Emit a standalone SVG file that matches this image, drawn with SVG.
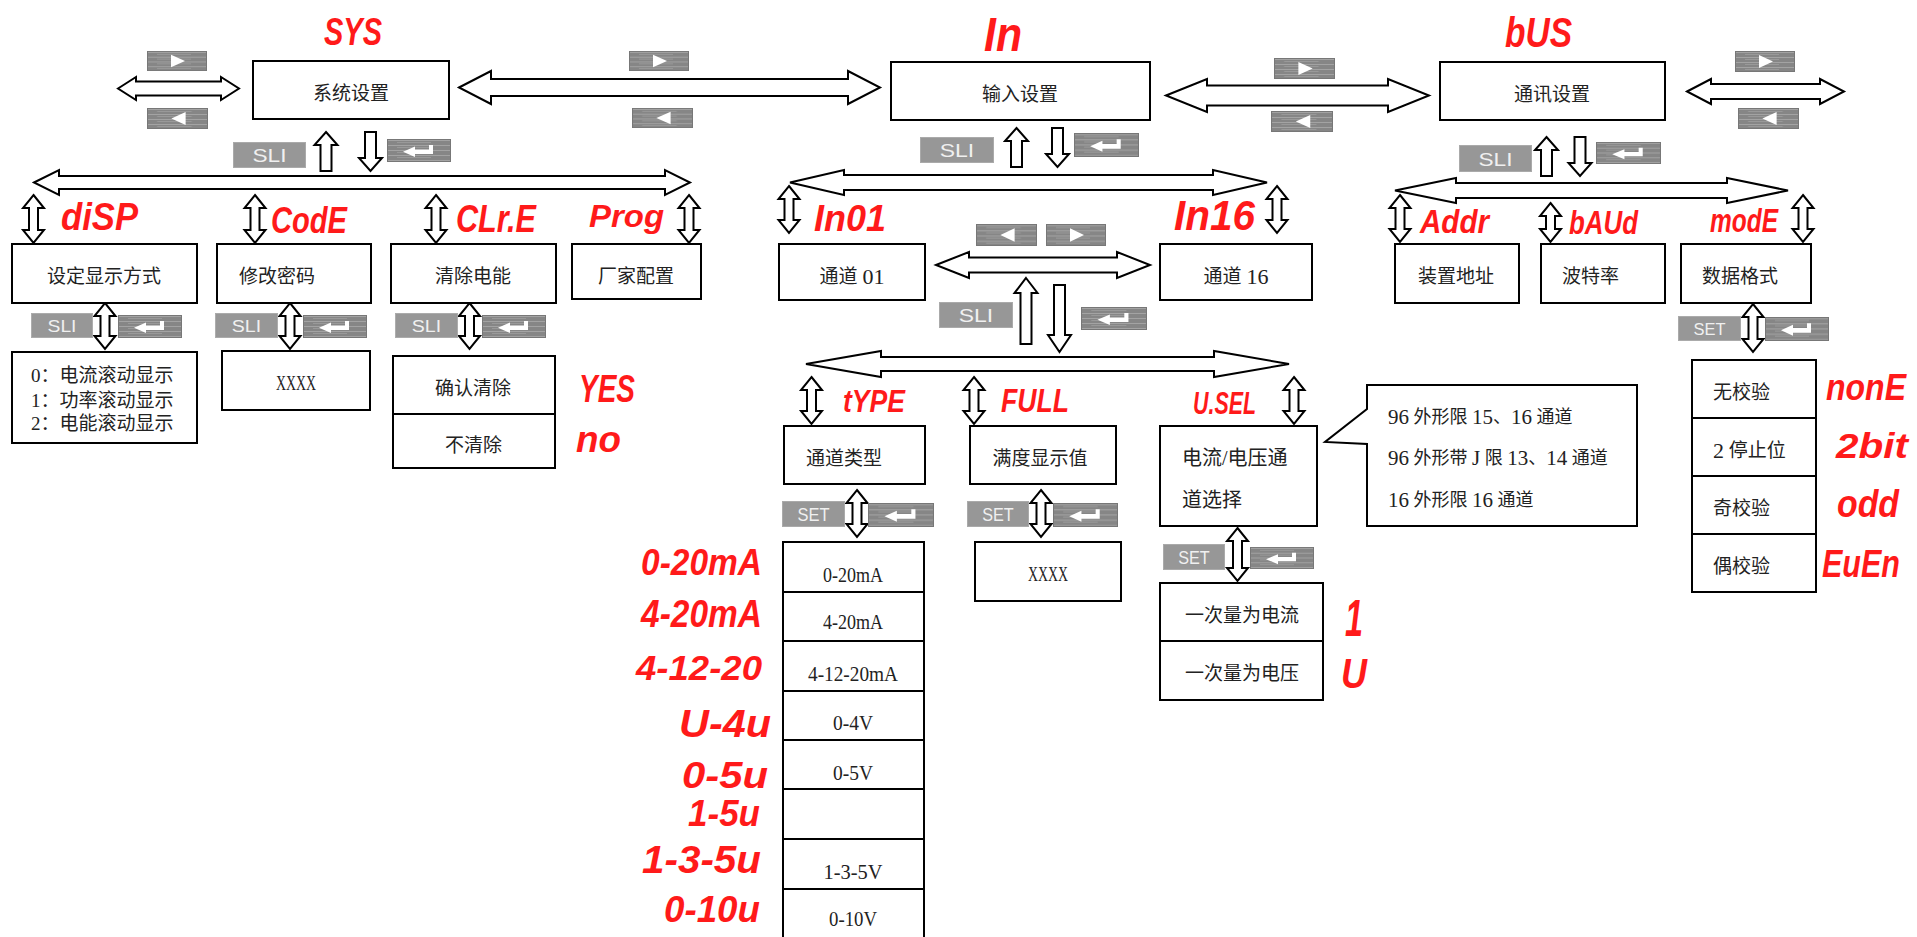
<svg xmlns="http://www.w3.org/2000/svg" width="1917" height="937" viewBox="0 0 1917 937">
<style>
.box{fill:#fff;stroke:#000;stroke-width:2}
.arr{fill:#fff;stroke:#000;stroke-width:2;stroke-linejoin:miter}
.t{font-family:"Liberation Serif","Noto Sans CJK SC",serif;font-size:19px;fill:#222;dominant-baseline:central}
.m{text-anchor:middle}
.s20{font-size:20px}
.s18{font-size:18px}
.d{font-size:22px}
.d21{font-size:21px}
.r{font-family:"Liberation Sans",Arial,sans-serif;font-weight:bold;font-style:italic;fill:#ff1a1a}
.bt{font-family:"Liberation Sans",Arial,sans-serif;fill:#f0f0f0;font-size:18px;text-anchor:middle}
</style>
<defs>
<pattern id="streak" patternUnits="userSpaceOnUse" width="64" height="5">
<rect width="64" height="5" fill="#868686"/>
<rect y="1" width="64" height="1" fill="#a3a3a3"/>
<rect x="10" y="3" width="34" height="1" fill="#999"/>
</pattern>
<symbol id="bNext" viewBox="0 0 60 21" preserveAspectRatio="none"><rect x="0.5" y="0.5" width="59" height="20" fill="url(#streak)" stroke="#777"/><path d="M24,4 L38,10.5 L24,17 Z" fill="#fff"/></symbol>
<symbol id="bPrev" viewBox="0 0 60 21" preserveAspectRatio="none"><rect x="0.5" y="0.5" width="59" height="20" fill="url(#streak)" stroke="#777"/><path d="M38,4 L24,10.5 L38,17 Z" fill="#fff"/></symbol>
<symbol id="bRet" viewBox="0 0 64 23" preserveAspectRatio="none"><rect x="0.5" y="0.5" width="63" height="22" fill="url(#streak)" stroke="#777"/><path d="M16,12.7 L28,7.5 L28,10.5 L42,10.5 L42,6 L46,6 L46,15 L28,15 L28,18 Z" fill="#fff"/></symbol>
<symbol id="bSLI" viewBox="0 0 73 26" preserveAspectRatio="none"><rect x="0.5" y="0.5" width="72" height="25" fill="#979797" stroke="#aaa"/><text class="bt" x="36.5" y="20" textLength="34" lengthAdjust="spacingAndGlyphs">SLI</text></symbol>
<symbol id="bSET" viewBox="0 0 63 26" preserveAspectRatio="none"><rect x="0.5" y="0.5" width="62" height="25" fill="#979797" stroke="#aaa"/><text class="bt" x="31.5" y="20" textLength="32" lengthAdjust="spacingAndGlyphs">SET</text></symbol>
<path id="v48" d="M0,0 L10.5,13 L4.5,13 L4.5,35 L10.5,35 L0,48 L-10.5,35 L-4.5,35 L-4.5,13 L-10.5,13 Z"/>
<path id="v47" d="M0,0 L10.5,13 L4.5,13 L4.5,34 L10.5,34 L0,47 L-10.5,34 L-4.5,34 L-4.5,13 L-10.5,13 Z"/>
<path id="v46" d="M0,0 L10.5,13 L4.5,13 L4.5,33 L10.5,33 L0,46 L-10.5,33 L-4.5,33 L-4.5,13 L-10.5,13 Z"/>
<path id="v39" d="M0,0 L10.5,13 L4.5,13 L4.5,26 L10.5,26 L0,39 L-10.5,26 L-4.5,26 L-4.5,13 L-10.5,13 Z"/>
<path id="v53" d="M0,0 L10.5,13 L4.5,13 L4.5,40 L10.5,40 L0,53 L-10.5,40 L-4.5,40 L-4.5,13 L-10.5,13 Z"/>
<path id="up39" d="M0,0 L11.5,13 L5.5,13 L5.5,39 L-5.5,39 L-5.5,13 L-11.5,13 Z"/>
<path id="dn39" d="M-5.5,0 L5.5,0 L5.5,26 L11.5,26 L0,39 L-11.5,26 L-5.5,26 Z"/>
<path id="up66" d="M0,0 L11.5,15 L5.5,15 L5.5,66 L-5.5,66 L-5.5,15 L-11.5,15 Z"/>
<path id="dn67" d="M-5.5,0 L5.5,0 L5.5,50 L11.5,50 L0,67 L-11.5,50 L-5.5,50 Z"/>
</defs>
<rect width="1917" height="937" fill="#fff"/>

<g id="connectors">
<path class="arr" d="M118,88.5 L136,77 L136,81.5 L221,81.5 L221,77 L239,88.5 L221,100 L221,95.5 L136,95.5 L136,100 Z"/>
<path class="arr" d="M459,87.5 L491,71 L491,79 L848,79 L848,71 L880,87.5 L848,104 L848,96 L491,96 L491,104 Z"/>
<path class="arr" d="M1166,95.5 L1207,79 L1207,85.5 L1388,85.5 L1388,79 L1429,95.5 L1388,112 L1388,105.5 L1207,105.5 L1207,112 Z"/>
<path class="arr" d="M1687,91.5 L1711,79 L1711,84 L1820,84 L1820,79 L1844,91.5 L1820,104 L1820,99 L1711,99 L1711,104 Z"/>
<path class="arr" d="M34,182.5 L59,170 L59,176 L665,176 L665,170 L690,182.5 L665,195 L665,189 L59,189 L59,195 Z"/>
<path class="arr" d="M790,182.5 L844,170 L844,175 L1213,175 L1213,170 L1267,182.5 L1213,195 L1213,190 L844,190 L844,195 Z"/>
<path class="arr" d="M1395,190.5 L1456,178 L1456,183 L1727,183 L1727,178 L1788,190.5 L1727,203 L1727,198 L1456,198 L1456,203 Z"/>
<path class="arr" d="M936,265 L969,252 L969,257.5 L1117,257.5 L1117,252 L1150,265 L1117,278 L1117,272.5 L969,272.5 L969,278 Z"/>
<path class="arr" d="M806,364 L881,351 L881,357 L1214,357 L1214,351 L1289,364 L1214,377 L1214,371 L881,371 L881,377 Z"/>
<use class="arr" href="#up39" x="326" y="132"/>
<use class="arr" href="#dn39" x="370.5" y="132"/>
<use class="arr" href="#up39" x="1016.5" y="128"/>
<use class="arr" href="#dn39" x="1057.5" y="128"/>
<use class="arr" href="#up39" x="1546.5" y="137"/>
<use class="arr" href="#dn39" x="1580" y="137"/>
<use class="arr" href="#up66" x="1026" y="278"/>
<use class="arr" href="#dn67" x="1059.5" y="285"/>
<use class="arr" href="#v48" x="33.5" y="195"/>
<use class="arr" href="#v48" x="255" y="195"/>
<use class="arr" href="#v48" x="436" y="195"/>
<use class="arr" href="#v48" x="689" y="195"/>
<use class="arr" href="#v47" x="789" y="186"/>
<use class="arr" href="#v47" x="1277" y="186"/>
<use class="arr" href="#v47" x="1400" y="195"/>
<use class="arr" href="#v39" x="1550.5" y="203"/>
<use class="arr" href="#v47" x="1803" y="195"/>
<use class="arr" href="#v46" x="105" y="303"/>
<use class="arr" href="#v46" x="290" y="303"/>
<use class="arr" href="#v46" x="469.5" y="303"/>
<use class="arr" href="#v47" x="811.5" y="377"/>
<use class="arr" href="#v47" x="974" y="377"/>
<use class="arr" href="#v47" x="1294" y="377"/>
<use class="arr" href="#v47" x="857" y="490"/>
<use class="arr" href="#v47" x="1041" y="490"/>
<use class="arr" href="#v53" x="1237.5" y="528"/>
<use class="arr" href="#v48" x="1753" y="304"/>
</g>

<g id="keys">
<use href="#bNext" x="147" y="51" width="60" height="20"/>
<use href="#bPrev" x="147" y="108" width="61" height="21"/>
<use href="#bSLI" x="233" y="142" width="73" height="26"/>
<use href="#bRet" x="387" y="139" width="64" height="23"/>
<use href="#bNext" x="629" y="51" width="60" height="20"/>
<use href="#bPrev" x="632" y="108" width="61" height="20"/>
<use href="#bSLI" x="920" y="137" width="74" height="26"/>
<use href="#bRet" x="1074" y="133" width="65" height="24"/>
<use href="#bNext" x="1274" y="58" width="61" height="21"/>
<use href="#bPrev" x="1271" y="111" width="62" height="21"/>
<use href="#bSLI" x="1459" y="145" width="73" height="27"/>
<use href="#bRet" x="1596" y="142" width="65" height="22"/>
<use href="#bNext" x="1735" y="51" width="60" height="21"/>
<use href="#bPrev" x="1738" y="108" width="61" height="21"/>
<use href="#bPrev" x="976" y="224" width="61" height="22"/>
<use href="#bNext" x="1046" y="224" width="60" height="22"/>
<use href="#bSLI" x="939" y="302" width="74" height="26"/>
<use href="#bRet" x="1081" y="307" width="66" height="23"/>
<use href="#bSLI" x="31" y="313" width="62" height="25"/>
<use href="#bRet" x="118" y="315" width="64" height="23"/>
<use href="#bSLI" x="215" y="313" width="63" height="25"/>
<use href="#bRet" x="303" y="315" width="64" height="23"/>
<use href="#bSLI" x="395" y="313" width="63" height="25"/>
<use href="#bRet" x="482" y="315" width="64" height="23"/>
<use href="#bSET" x="782" y="501" width="63" height="26"/>
<use href="#bRet" x="868" y="503" width="66" height="24"/>
<use href="#bSET" x="967" y="501" width="62" height="26"/>
<use href="#bRet" x="1053" y="503" width="65" height="24"/>
<use href="#bSET" x="1163" y="544" width="62" height="26"/>
<use href="#bRet" x="1250" y="547" width="64" height="22"/>
<use href="#bSET" x="1678" y="316" width="63" height="25"/>
<use href="#bRet" x="1765" y="317" width="64" height="24"/>
</g>

<g id="node-sys">
<rect class="box" x="253" y="61" width="196" height="58"/>
<text class="t m" x="351" y="93">系统设置</text>
<text class="r" x="324" y="45" font-size="38" textLength="58" lengthAdjust="spacingAndGlyphs">SYS</text>
</g>
<g id="node-in">
<rect class="box" x="891" y="62" width="259" height="58"/>
<text class="t m" x="1020" y="94">输入设置</text>
<text class="r" x="984" y="51" font-size="48" textLength="38" lengthAdjust="spacingAndGlyphs">In</text>
</g>
<g id="node-bus">
<rect class="box" x="1440" y="62" width="225" height="58"/>
<text class="t m" x="1552" y="94">通讯设置</text>
<text class="r" x="1505" y="47" font-size="43" textLength="67" lengthAdjust="spacingAndGlyphs">bUS</text>
</g>

<g id="node-disp">
<rect class="box" x="12" y="244" width="185" height="59"/>
<text class="t m" x="104" y="276">设定显示方式</text>
<text class="r" x="61" y="230" font-size="39" textLength="77" lengthAdjust="spacingAndGlyphs">diSP</text>
</g>
<g id="node-code">
<rect class="box" x="217" y="244" width="154" height="59"/>
<text class="t" x="239" y="276">修改密码</text>
<text class="r" x="271" y="233" font-size="37" textLength="76" lengthAdjust="spacingAndGlyphs">CodE</text>
</g>
<g id="node-clr">
<rect class="box" x="391" y="244" width="165" height="59"/>
<text class="t m" x="473" y="276">清除电能</text>
<text class="r" x="456" y="232" font-size="38" textLength="80" lengthAdjust="spacingAndGlyphs">CLr.E</text>
</g>
<g id="node-prog">
<rect class="box" x="572" y="244" width="129" height="55"/>
<text class="t m" x="636" y="276">厂家配置</text>
<text class="r" x="589" y="227" font-size="31" textLength="75" lengthAdjust="spacingAndGlyphs">Prog</text>
</g>
<g id="node-disp-opts">
<rect class="box" x="12" y="352" width="185" height="91"/>
<text class="t" x="31" y="375">0：电流滚动显示</text>
<text class="t" x="31" y="400">1：功率滚动显示</text>
<text class="t" x="31" y="423">2：电能滚动显示</text>
</g>
<g id="node-code-val">
<rect class="box" x="222" y="351" width="148" height="59"/>
<text class="t s20 m" x="296" y="383" textLength="40" lengthAdjust="spacingAndGlyphs">XXXX</text>
</g>
<g id="node-clr-opts">
<rect class="box" x="393" y="356" width="162" height="58"/>
<rect class="box" x="393" y="414" width="162" height="54"/>
<text class="t m" x="473" y="388">确认清除</text>
<text class="t m" x="473.5" y="445">不清除</text>
<text class="r" x="579" y="402" font-size="38" textLength="56" lengthAdjust="spacingAndGlyphs">YES</text>
<text class="r" x="576" y="452" font-size="37" textLength="45" lengthAdjust="spacingAndGlyphs">no</text>
</g>

<g id="node-ch01">
<rect class="box" x="779" y="244" width="146" height="56"/>
<text class="t m" x="852" y="276">通道 <tspan class="d">01</tspan></text>
<text class="r" x="814" y="231" font-size="36" textLength="72" lengthAdjust="spacingAndGlyphs">In01</text>
</g>
<g id="node-ch16">
<rect class="box" x="1160" y="244" width="152" height="56"/>
<text class="t m" x="1236" y="276">通道 <tspan class="d">16</tspan></text>
<text class="r" x="1174" y="230" font-size="42" textLength="81" lengthAdjust="spacingAndGlyphs">In16</text>
</g>
<g id="node-type">
<rect class="box" x="784" y="426" width="141" height="58"/>
<text class="t" x="806" y="458">通道类型</text>
<text class="r" x="843" y="412" font-size="32" textLength="62" lengthAdjust="spacingAndGlyphs">tYPE</text>
</g>
<g id="node-full">
<rect class="box" x="970" y="426" width="146" height="58"/>
<text class="t m" x="1040" y="458">满度显示值</text>
<text class="r" x="1001" y="412" font-size="34" textLength="68" lengthAdjust="spacingAndGlyphs">FULL</text>
</g>
<g id="node-usel">
<rect class="box" x="1160" y="426" width="157" height="100"/>
<text class="t s20" x="1182" y="458">电流/电压通</text>
<text class="t s20" x="1182" y="500">道选择</text>
<text class="r" x="1193" y="414" font-size="32" textLength="63" lengthAdjust="spacingAndGlyphs">U.SEL</text>
</g>
<g id="node-callout">
<path class="box" d="M1367,385 L1637,385 L1637,526 L1367,526 L1367,444 L1325,442 L1367,409 Z"/>
<text class="t s18" x="1388" y="417"><tspan class="d21">96</tspan> 外形限 <tspan class="d21">15</tspan>、<tspan class="d21">16</tspan> 通道</text>
<text class="t s18" x="1388" y="458"><tspan class="d21">96</tspan> 外形带 <tspan class="d21">J</tspan> 限 <tspan class="d21">13</tspan>、<tspan class="d21">14</tspan> 通道</text>
<text class="t s18" x="1388" y="500"><tspan class="d21">16</tspan> 外形限 <tspan class="d21">16</tspan> 通道</text>
</g>
<g id="node-type-opts">
<rect class="box" x="783" y="542" width="141" height="50"/>
<rect class="box" x="783" y="592" width="141" height="49"/>
<rect class="box" x="783" y="641" width="141" height="50"/>
<rect class="box" x="783" y="691" width="141" height="49"/>
<rect class="box" x="783" y="740" width="141" height="49"/>
<rect class="box" x="783" y="789" width="141" height="50"/>
<rect class="box" x="783" y="839" width="141" height="50"/>
<rect class="box" x="783" y="889" width="141" height="60"/>
<text class="t d m" x="853" y="574" textLength="60" lengthAdjust="spacingAndGlyphs">0-20mA</text>
<text class="t d m" x="853" y="621" textLength="60" lengthAdjust="spacingAndGlyphs">4-20mA</text>
<text class="t d m" x="853" y="673" textLength="90" lengthAdjust="spacingAndGlyphs">4-12-20mA</text>
<text class="t d m" x="853" y="722" textLength="40" lengthAdjust="spacingAndGlyphs">0-4V</text>
<text class="t d m" x="853" y="772" textLength="40" lengthAdjust="spacingAndGlyphs">0-5V</text>
<text class="t d m" x="853" y="871" textLength="59" lengthAdjust="spacingAndGlyphs">1-3-5V</text>
<text class="t d m" x="853" y="918" textLength="48" lengthAdjust="spacingAndGlyphs">0-10V</text>
<text class="r" x="641" y="575" font-size="36" textLength="121" lengthAdjust="spacingAndGlyphs">0-20mA</text>
<text class="r" x="641" y="627" font-size="38" textLength="121" lengthAdjust="spacingAndGlyphs">4-20mA</text>
<text class="r" x="636" y="680" font-size="35" textLength="126" lengthAdjust="spacingAndGlyphs">4-12-20</text>
<text class="r" x="679" y="737" font-size="39" textLength="92" lengthAdjust="spacingAndGlyphs">U-4u</text>
<text class="r" x="682" y="788" font-size="36" textLength="86" lengthAdjust="spacingAndGlyphs">0-5u</text>
<text class="r" x="688" y="826" font-size="37" textLength="72" lengthAdjust="spacingAndGlyphs">1-5u</text>
<text class="r" x="642" y="873" font-size="39" textLength="119" lengthAdjust="spacingAndGlyphs">1-3-5u</text>
<text class="r" x="664" y="922" font-size="37" textLength="96" lengthAdjust="spacingAndGlyphs">0-10u</text>
</g>
<g id="node-full-val">
<rect class="box" x="975" y="542" width="146" height="59"/>
<text class="t s20 m" x="1048" y="574" textLength="40" lengthAdjust="spacingAndGlyphs">XXXX</text>
</g>
<g id="node-usel-opts">
<rect class="box" x="1160" y="583" width="163" height="58"/>
<rect class="box" x="1160" y="641" width="163" height="59"/>
<text class="t m" x="1242" y="615">一次量为电流</text>
<text class="t m" x="1242" y="673">一次量为电压</text>
<text class="r" x="1345" y="636" font-size="51" textLength="18" lengthAdjust="spacingAndGlyphs">1</text>
<text class="r" x="1341" y="688" font-size="42" textLength="26" lengthAdjust="spacingAndGlyphs">U</text>
</g>

<g id="node-addr">
<rect class="box" x="1395" y="244" width="124" height="59"/>
<text class="t m" x="1456" y="276">装置地址</text>
<text class="r" x="1420" y="233" font-size="34" textLength="69" lengthAdjust="spacingAndGlyphs">Addr</text>
</g>
<g id="node-baud">
<rect class="box" x="1541" y="244" width="124" height="59"/>
<text class="t" x="1562" y="276">波特率</text>
<text class="r" x="1569" y="234" font-size="34" textLength="69" lengthAdjust="spacingAndGlyphs">bAUd</text>
</g>
<g id="node-mode">
<rect class="box" x="1681" y="244" width="130" height="59"/>
<text class="t" x="1702" y="276">数据格式</text>
<text class="r" x="1710" y="232" font-size="34" textLength="68" lengthAdjust="spacingAndGlyphs">modE</text>
</g>
<g id="node-mode-opts">
<rect class="box" x="1692" y="360" width="124" height="58"/>
<rect class="box" x="1692" y="418" width="124" height="58"/>
<rect class="box" x="1692" y="476" width="124" height="58"/>
<rect class="box" x="1692" y="534" width="124" height="58"/>
<text class="t" x="1713" y="392">无校验</text>
<text class="t" x="1713" y="450"><tspan class="d">2</tspan> 停止位</text>
<text class="t" x="1713" y="508">奇校验</text>
<text class="t" x="1713" y="566">偶校验</text>
<text class="r" x="1826" y="400" font-size="36" textLength="80" lengthAdjust="spacingAndGlyphs">nonE</text>
<text class="r" x="1836" y="458" font-size="35" textLength="72" lengthAdjust="spacingAndGlyphs">2bit</text>
<text class="r" x="1837" y="517" font-size="38" textLength="62" lengthAdjust="spacingAndGlyphs">odd</text>
<text class="r" x="1822" y="577" font-size="38" textLength="78" lengthAdjust="spacingAndGlyphs">EuEn</text>
</g>
</svg>
